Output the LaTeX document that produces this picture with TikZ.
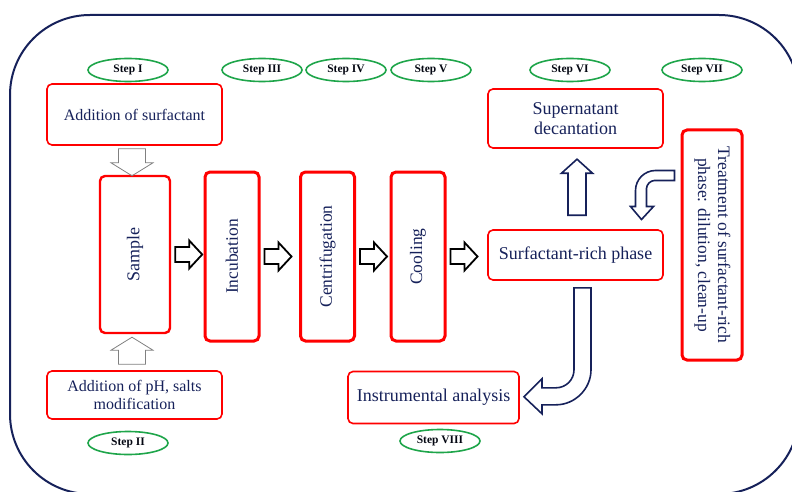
\documentclass[tikz,border=0pt]{standalone}
\usepackage{fontspec}
\setmainfont{Liberation Serif}
\usetikzlibrary{calc,shapes.geometric}
\definecolor{navy}{HTML}{16215A}
\definecolor{stepgreen}{HTML}{1EA54A}
\tikzset{>=latex,
  box/.style={draw=red,rounded corners=5pt,line width=1.6pt,text=navy,align=center,
    font=\fontsize{18}{20}\selectfont},
  thickbox/.style={box,line width=3pt,font=\fontsize{17.5}{20}\selectfont},
  stepnode/.style={ellipse,draw=stepgreen,line width=1.6pt,minimum width=80pt,minimum height=23pt,
    inner sep=0pt,text=black!80!navy,font=\fontsize{11.5}{13}\selectfont\bfseries},
  blk/.pic={\draw[line width=1.8pt] (0,-7.5)--(14,-7.5)--(14,-14)--(27,0)--(14,14)--(14,7.5)--(0,7.5)--cycle;},
  gry/.pic={\draw[gray,line width=0.8pt] (0,-13.5)--(14,-13.5)--(14,-21)--(27,0)--(14,21)--(14,13.5)--(0,13.5)--cycle;},
  nvy/.pic={\draw[navy,line width=1.6pt] (0,-9)--(42,-9)--(42,-15.5)--(56,0)--(42,15.5)--(42,9)--(0,9)--cycle;},
}

\begin{document}
\begin{tikzpicture}[x=1pt,y=-1pt]
  \useasboundingbox (0,0) rectangle (792,492);
  \clip (0,0) rectangle (792,492);
  \draw[navy,line width=2pt,rounded corners=80pt] (10,15) rectangle (799,494);
  % steps
  \foreach\N/\X/\Y/\T in {s1/128/70/I,s3/262/70/III,s4/346/70/IV,s5/431/70/V,
                          s6/570/70/VI,s7/702/70/VII,s2/128/443/II,s8/440/441/VIII}
    {\node[stepnode] (\N) at (\X,\Y) {Step \T};}
  % boxes
  \node[box,minimum width=175pt,minimum height=61pt,font=\fontsize{16}{18}\selectfont]
    (addsurf) at (134.5,114.5) {Addition of surfactant};
  \node[box,minimum width=175pt,minimum height=48pt,font=\fontsize{16}{18}\selectfont]
    (addph) at (134.5,395) {Addition of pH, salts\\modification};
  \node[box,line width=2.4pt,minimum width=70pt,minimum height=157pt]
    (sample) at (135,254.5) {\rotatebox{90}{Sample}};
  \foreach\N/\X/\T in {incub/232/Incubation,centri/327.5/Centrifugation,cool/418/Cooling}
    {\node[thickbox,minimum width=54pt,minimum height=169pt] (\N) at (\X,256.5) {\rotatebox{90}{\T}};}
  \node[box,minimum width=175pt,minimum height=50pt] (srp) at (575.5,255) {Surfactant-rich phase};
  \node[box,minimum width=175pt,minimum height=59pt] (super) at (575.5,118.5) {Supernatant\\decantation};
  \node[box,minimum width=171pt,minimum height=52pt] (instr) at (433.5,397.5) {Instrumental analysis};
  \node[thickbox,minimum width=60pt,minimum height=230pt] (treat) at (712,245)
    {\rotatebox{-90}{\begin{tabular}{@{}c@{}}Treatment of surfactant-rich\\phase: dilution, clean-up\end{tabular}}};
  % block arrows
  \foreach\A in {sample,incub,centri,cool} {\pic at ($(\A.east)+(4,0)$) {blk};}
  \pic[rotate=-90] at ($(addsurf.south)+(-2.5,3)$) {gry};
  \pic[rotate=90] at ($(addph.north)+(-2.5,-6)$) {gry};
  \pic[rotate=90] at ($(srp.north)+(1.5,-14)$) {nvy};
  % bent arrows
  \draw[navy,line width=1.6pt] ($(treat.north west)+(-6,42)$) -- ++(-19,0)
    .. controls +(-11,0) and +(0,-11) .. ++(-20,20) -- ++(0,16) -- ++(-5,0) -- ++(11,13)
    -- ++(12,-13) -- ++(-7,0) -- ++(0,-18) .. controls +(0,-4) and +(-4,0) .. ++(8,-8)
    -- ++(20,0) -- cycle;
  \draw[navy,line width=1.6pt] ($(srp.south)+(-1.5,7)$) -- ++(0,82)
    .. controls +(0,10) and +(10,0) .. ++(-18,18) -- ++(-14,0) -- ++(0,-9) -- ++(-18,18)
    -- ++(18,17) -- ++(0,-9) -- ++(14,0) .. controls +(19,0) and +(0,19) .. ++(35,-35)
    -- ++(0,-82) -- cycle;
\end{tikzpicture}
\end{document}
